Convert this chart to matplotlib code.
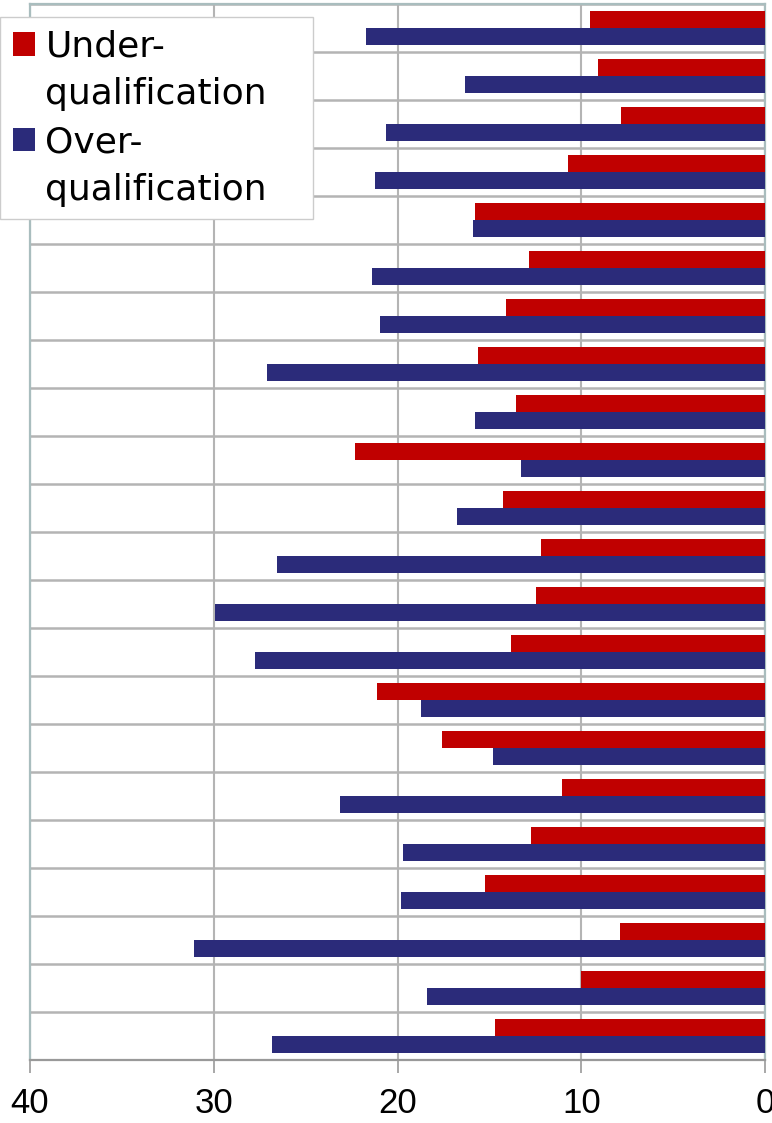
import matplotlib
matplotlib.use("Agg")
import matplotlib.pyplot as plt
from matplotlib.patches import Patch
import numpy as np

# values read top to bottom
under = [9.5, 9.1, 7.85, 10.7, 15.8, 12.85, 14.1, 15.6, 13.55, 22.3, 14.25,
         12.2, 12.45, 13.8, 21.1, 17.6, 11.05, 12.75, 15.25, 7.9, 10.0, 14.7]
over = [21.7, 16.35, 20.6, 21.2, 15.9, 21.4, 20.95, 27.1, 15.8, 13.3, 16.75,
        26.55, 29.95, 27.75, 18.7, 14.8, 23.15, 19.7, 19.8, 31.05, 18.4, 26.85]
labels = [["Under-", "qualification"], ["Over-", "qualification"]]
xticks = [40, 30, 20, 10, 0]

red = "#C00000"
navy = "#2B2B7A"
grid_c = "#B4B4B4"
spine_c = "#A9BDBE"

fig = plt.figure(figsize=(7.72, 11.23), dpi=100)
ax = fig.add_axes([30 / 772, 63 / 1123, 735 / 772, 1056 / 1123])

y = np.arange(len(under))
h = 0.355
ax.barh(y - h / 2, under, h, color=red, zorder=3)
ax.barh(y + h / 2, over, h, color=navy, zorder=3)

ax.set_xlim(40, 0)
ax.set_ylim(len(under) - 0.5, -0.5)
ax.set_xticks(xticks)
ax.set_xticklabels([str(t) for t in xticks], fontsize=25, family="Liberation Sans")
ax.set_yticks([])
ax.set_yticks(np.arange(-0.5, len(under), 1), minor=True)
ax.tick_params(axis="y", which="both", length=0)
ax.tick_params(axis="x", length=9.5, width=1.2, color="#999999", pad=10)

ax.grid(axis="x", color=grid_c, linewidth=1.5, zorder=0)
ax.grid(axis="y", which="minor", color=grid_c, linewidth=1.8, zorder=0)

for s in ["left", "top", "right"]:
    ax.spines[s].set_color(spine_c)
    ax.spines[s].set_linewidth(1.6)
ax.spines["bottom"].set_color("#999999")
ax.spines["bottom"].set_linewidth(1.6)

# legend: one row per text line so the square sits by the first line
handles = []
texts = []
for col, lab in zip([red, navy], labels):
    handles.append(Patch(facecolor=col, edgecolor="none"))
    texts.append(lab[0])
    handles.append(Patch(facecolor="none", edgecolor="none"))
    texts.append(lab[1])

leg = ax.legend(handles, texts, loc="upper left",
                bbox_to_anchor=(0, 17 / 1123, 313 / 772, 1 - 34 / 1123),
                bbox_transform=fig.transFigure, borderaxespad=0, mode="expand",
                fontsize=26, frameon=True, fancybox=False,
                handlelength=0.61, handleheight=0.61, handletextpad=0.3,
                labelspacing=0.38, borderpad=0.35, framealpha=1)
leg.get_frame().set_edgecolor("#CCCCCC")
leg.get_frame().set_linewidth(1)
leg.set_zorder(5)

fig.savefig("out.png", dpi=100)
